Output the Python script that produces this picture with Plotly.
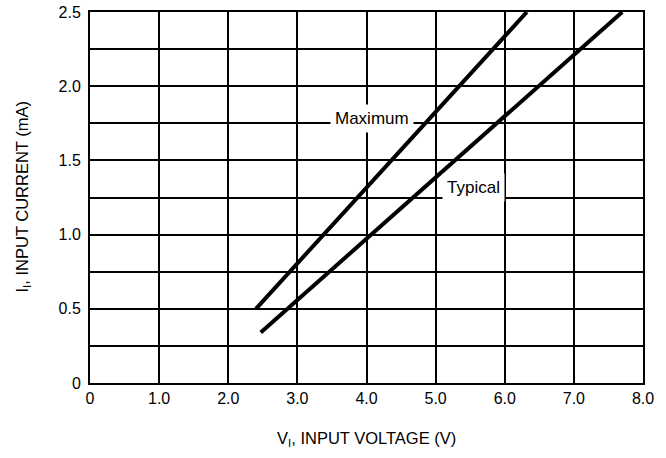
import plotly.graph_objects as go

max_v = [2.4, 6.32]
max_i = [0.5, 2.5]
typ_v = [2.47, 7.7]
typ_i = [0.34, 2.5]

x_ticks = [0, 1, 2, 3, 4, 5, 6, 7, 8]
x_labels = ["0", "1.0", "2.0", "3.0", "4.0", "5.0", "6.0", "7.0", "8.0"]
y_ticks = [0, 0.25, 0.5, 0.75, 1.0, 1.25, 1.5, 1.75, 2.0, 2.25, 2.5]
y_labels = ["0", "", "0.5", "", "1.0", "", "1.5", "", "2.0", "", "2.5"]

FONT = "Liberation Sans, Arial, sans-serif"

fig = go.Figure()
fig.add_trace(go.Scatter(x=max_v, y=max_i, mode="lines",
                         line=dict(color="black", width=4), showlegend=False))
fig.add_trace(go.Scatter(x=typ_v, y=typ_i, mode="lines",
                         line=dict(color="black", width=4), showlegend=False))

fig.add_annotation(x=4.08, y=1.78, text="Maximum", showarrow=False,
                   bgcolor="white", font=dict(size=17, color="black", family=FONT),
                   borderpad=4)
fig.add_annotation(x=5.55, y=1.315, text="Typical", showarrow=False,
                   bgcolor="white", font=dict(size=17, color="black", family=FONT),
                   borderpad=4)

# axis titles
fig.add_annotation(xref="paper", yref="paper", x=0.5, y=0, yshift=-56,
                   text="V<sub>I</sub>, INPUT VOLTAGE (V)", showarrow=False,
                   font=dict(size=16.5, color="black", family=FONT), yanchor="middle")
fig.add_annotation(xref="paper", yref="paper", x=0, y=0.5, xshift=-68,
                   text="I<sub>I</sub>, INPUT CURRENT (mA)", showarrow=False, textangle=-90,
                   font=dict(size=16.5, color="black", family=FONT), xanchor="center")

fig.update_layout(
    width=666, height=458,
    margin=dict(l=90, r=23, t=12, b=75, autoexpand=False),
    paper_bgcolor="white", plot_bgcolor="white",
    font=dict(family=FONT, size=16, color="black"),
    xaxis=dict(range=[0, 8], tickvals=x_ticks, ticktext=x_labels,
               showgrid=True, gridcolor="black", gridwidth=2,
               showline=True, linecolor="black", linewidth=2, mirror=True,
               zeroline=False, ticks="", automargin=False,
               ticklabeloverflow="allow", tickfont=dict(size=16)),
    yaxis=dict(range=[0, 2.5], tickvals=y_ticks, ticktext=y_labels,
               showgrid=True, gridcolor="black", gridwidth=2,
               showline=True, linecolor="black", linewidth=2, mirror=True,
               zeroline=False, ticks="", automargin=False,
               ticklabeloverflow="allow", ticklabelstandoff=4,
               tickfont=dict(size=16)),
)

fig.write_html("out.html", config={"displayModeBar": False},
               post_script="document.body.style.margin='0';")
